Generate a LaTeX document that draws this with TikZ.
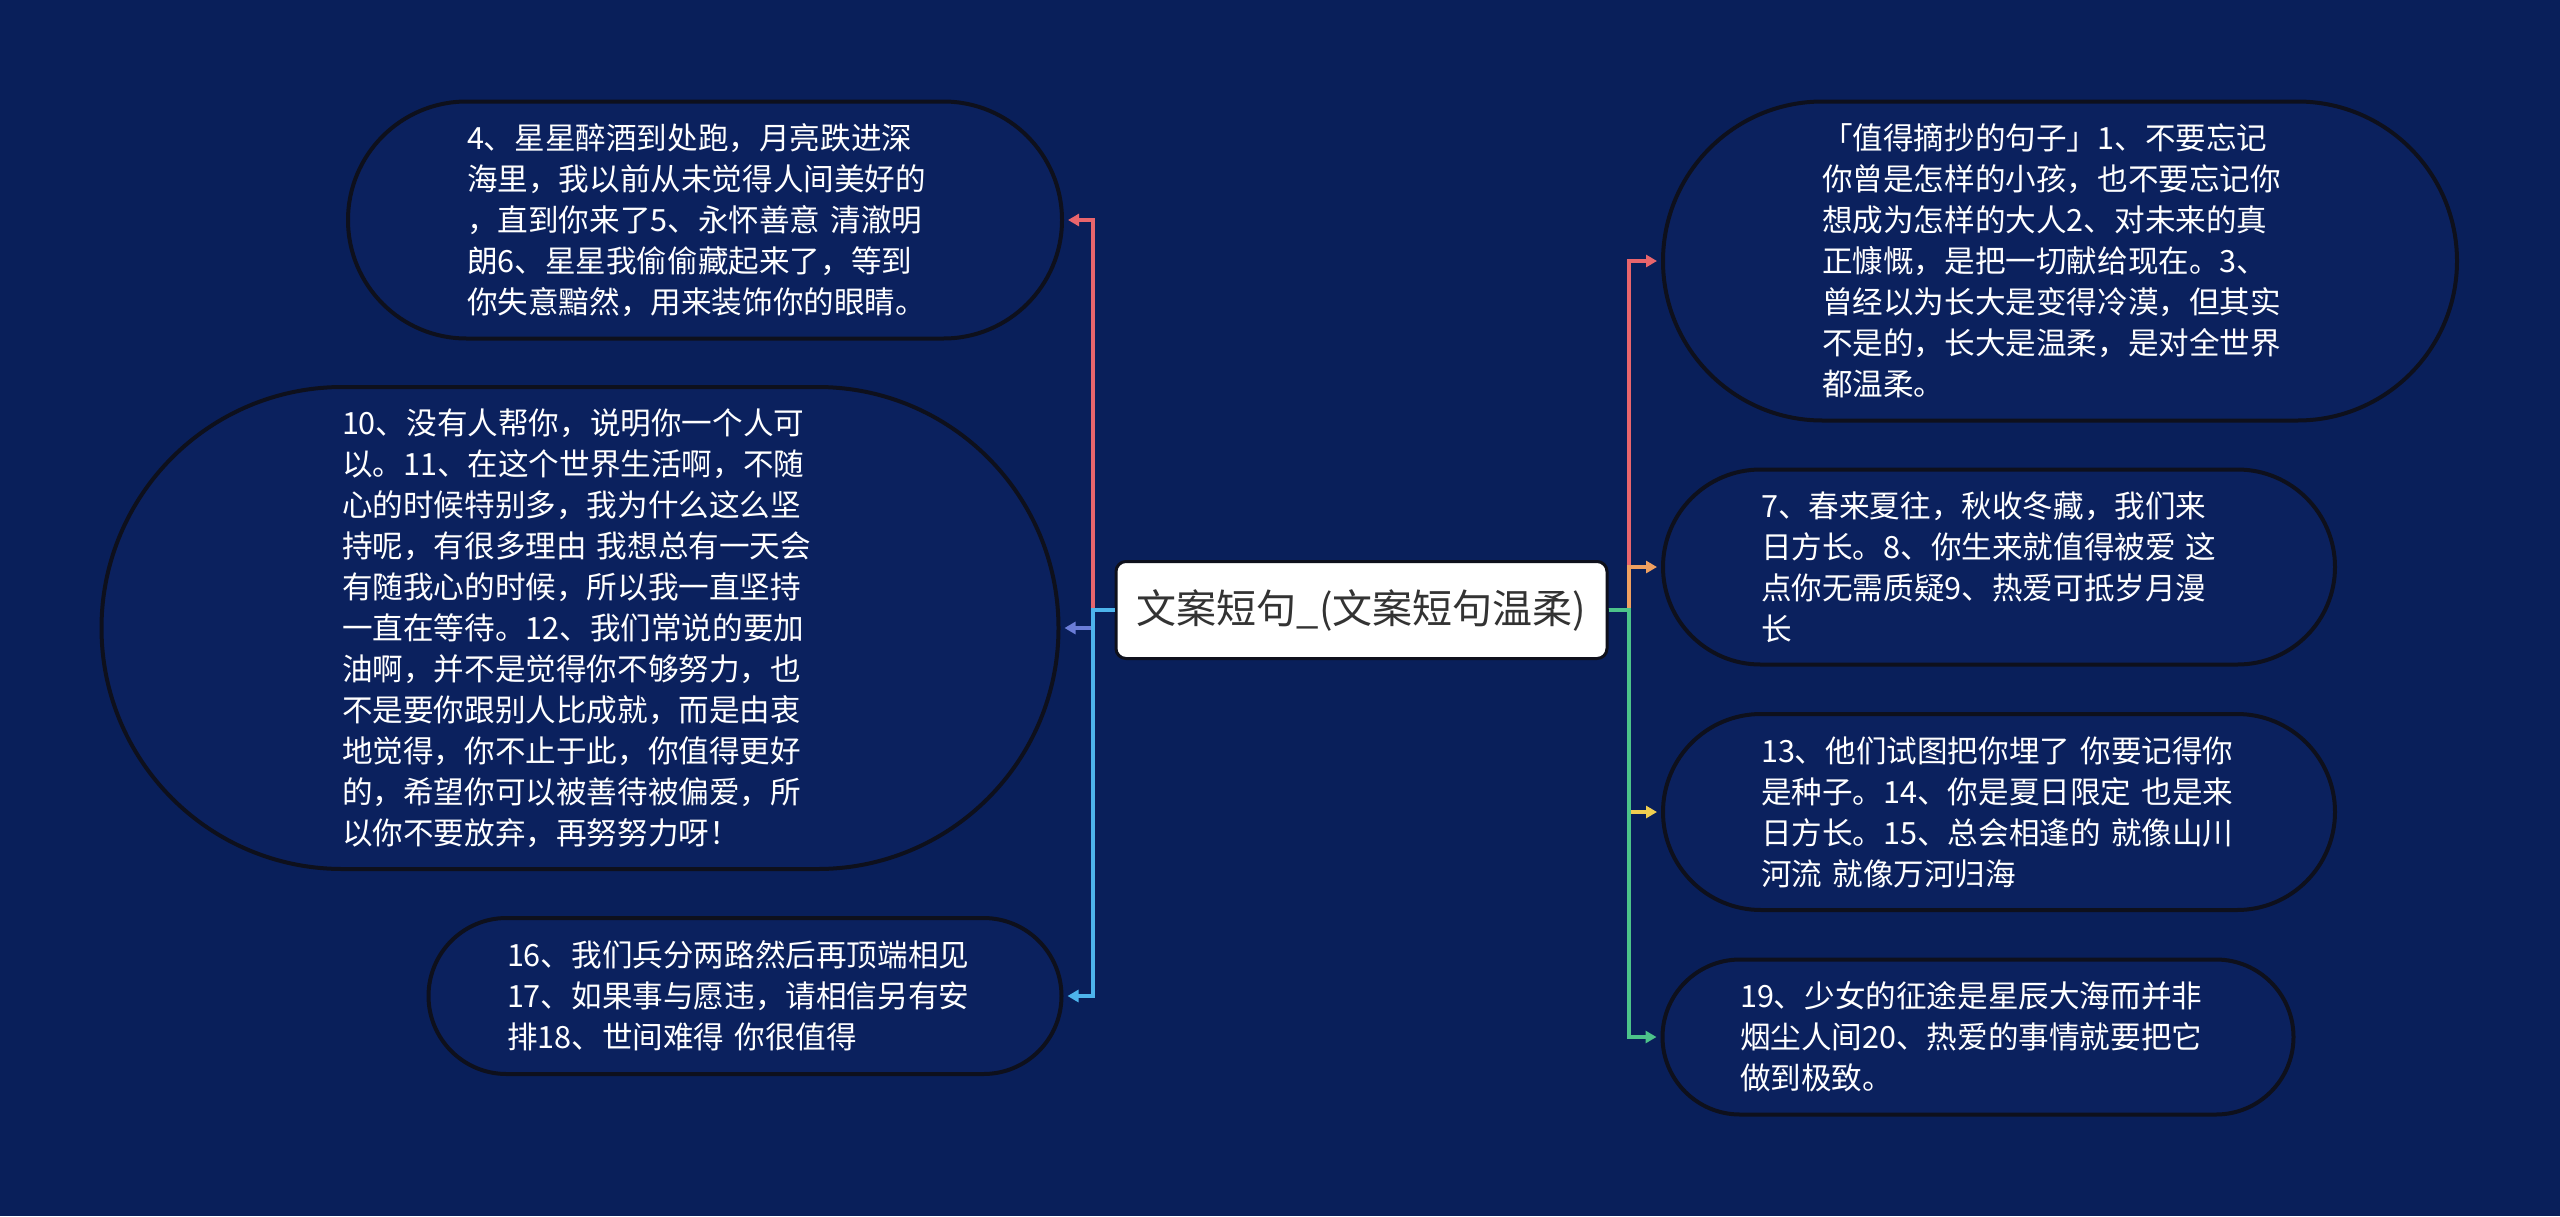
\documentclass[tikz,border=0pt]{standalone}
\usepackage{fontspec}
\setmainfont{Noto Sans CJK SC}
\usetikzlibrary{arrows.meta,shapes.misc}

\definecolor{bgnavy}{RGB}{9,31,90}
\definecolor{boxnavy}{RGB}{11,33,94}
\definecolor{rimdark}{RGB}{14,16,28}
\definecolor{linkred}{RGB}{232,101,108}
\definecolor{linkviolet}{RGB}{107,125,216}
\definecolor{linksky}{RGB}{77,180,236}
\definecolor{linkorange}{RGB}{240,160,96}
\definecolor{linkyellow}{RGB}{240,206,80}
\definecolor{linkgreen}{RGB}{76,195,138}

\begin{document}
\begin{tikzpicture}[x=0.5pt, y=-0.5pt,
    topic/.style={draw=rimdark, line width=1.5pt, fill=white, rounded corners=5pt,
      minimum width=245.5pt, minimum height=48.5pt, inner sep=0pt, text=black!80,
      font=\fontsize{20pt}{24pt}\selectfont},
    leaf/.style={rounded rectangle, draw=rimdark, line width=2pt, fill=boxnavy,
      text=white, text width=238pt, align=left, inner xsep=0pt,
      font=\fontsize{15.3pt}{20.5pt}\selectfont},
    link/.style={line width=1.6pt, -{Triangle[length=5.5pt,width=6pt]}, shorten >=2pt}]
    % Canvas 2560 x 1216
    \useasboundingbox (0, 0) rectangle (2560, 1216);
    \fill[bgnavy] (0, 0) rectangle (2560, 1216);

    % Central topic
    \node[topic] (cen) at (1361.5, 610) {文案短句\_(文案短句温柔)};

    % Left leaves
    \node[leaf, minimum width=357pt, minimum height=118.5pt] (tl) at (705, 220) {4、星星醉酒到处跑，月亮跌进深\\
      海里，我以前从未觉得人间美好的\\
      ，直到你来了5、永怀善意 清澈明\\
      朗6、星星我偷偷藏起来了，等到\\
      你失意黯然，用来装饰你的眼睛。};
    \node[leaf, minimum width=478.5pt, minimum height=241pt] (ml) at (580, 628) {10、没有人帮你，说明你一个人可\\
      以。11、在这个世界生活啊，不随\\
      心的时候特别多，我为什么这么坚\\
      持呢，有很多理由 我想总有一天会\\
      有随我心的时候，所以我一直坚持\\
      一直在等待。12、我们常说的要加\\
      油啊，并不是觉得你不够努力，也\\
      不是要你跟别人比成就，而是由衷\\
      地觉得，你不止于此，你值得更好\\
      的，希望你可以被善待被偏爱，所\\
      以你不要放弃，再努努力呀！};
    \node[leaf, minimum width=316.5pt, minimum height=78pt] (bl) at (745, 996) {16、我们兵分两路然后再顶端相见\\
      17、如果事与愿违，请相信另有安\\
      排18、世间难得 你很值得};

    % Right leaves
    \node[leaf, minimum width=397pt, minimum height=159.5pt] (r1) at (2060, 261) {「值得摘抄的句子」1、不要忘记\\
      你曾是怎样的小孩，也不要忘记你\\
      想成为怎样的大人2、对未来的真\\
      正慷慨，是把一切献给现在。3、\\
      曾经以为长大是变得冷漠，但其实\\
      不是的，长大是温柔，是对全世界\\
      都温柔。};
    \node[leaf, minimum width=336pt, minimum height=97.5pt] (r2) at (1999, 567) {7、春来夏往，秋收冬藏，我们来\\
      日方长。8、你生来就值得被爱 这\\
      点你无需质疑9、热爱可抵岁月漫\\
      长};
    \node[leaf, minimum width=336pt, minimum height=98pt] (r3) at (1999, 812) {13、他们试图把你埋了 你要记得你\\
      是种子。14、你是夏日限定 也是来\\
      日方长。15、总会相逢的 就像山川\\
      河流 就像万河归海};
    \node[leaf, minimum width=315.5pt, minimum height=77.5pt] (r4) at (1978, 1037) {19、少女的征途是星辰大海而并非\\
      烟尘人间20、热爱的事情就要把它\\
      做到极致。};

    % Branch buses
    \coordinate (lbus) at (1093, 610);
    \coordinate (rbus) at (1629, 610);

    % Left branches
    \draw[link, linkred] (cen.west) -- (lbus) |- (tl.east);
    \draw[link, linkviolet] (cen.west) -- (lbus) |- (ml.east);
    \draw[link, linksky] (cen.west) -- (lbus) |- (bl.east);

    % Right branches
    \draw[link, linkred] (cen.east) -- (rbus) |- (r1.west);
    \draw[link, linkorange] (cen.east) -- (rbus) |- (r2.west);
    \draw[link, linkyellow] (cen.east) -- (rbus) |- (r3.west);
    \draw[link, linkgreen] (cen.east) -- (rbus) |- (r4.west);
  \end{tikzpicture}
\end{document}
